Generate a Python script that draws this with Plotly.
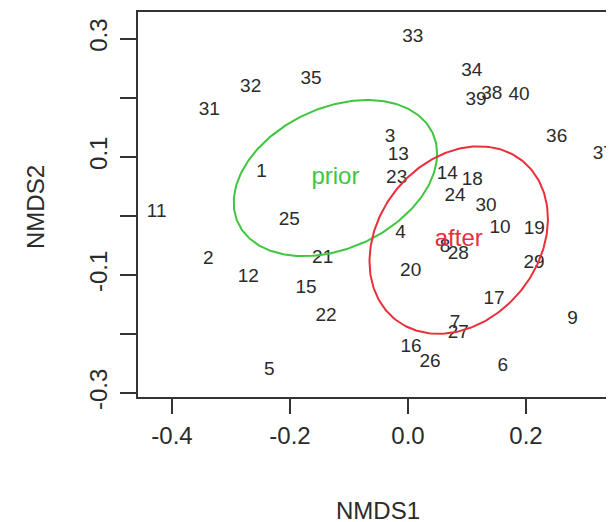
import numpy as np
import plotly.graph_objects as go

# ---- data ----
site_labels = [str(i) for i in range(1, 41)]
nmds1 = [-0.248, -0.3385, -0.0305, -0.0124, -0.235, 0.1605, 0.0797, 0.0627, 0.279, 0.156,
         -0.426, -0.2707, -0.0164, 0.0666, -0.1729, 0.0051, 0.1458, 0.109, 0.214, 0.0046,
         -0.1446, -0.139, -0.0192, 0.0797, -0.2012, 0.0373, 0.0853, 0.0853, 0.2136, 0.1322,
         -0.3368, -0.2666, 0.008, 0.108, -0.1644, 0.252, 0.331, 0.1419, 0.1153, 0.1881]
nmds2 = [0.0736, -0.0734, 0.134, -0.0298, -0.2615, -0.2547, -0.1824, -0.053, -0.1756, -0.0214,
         0.0058, -0.1034, 0.1029, 0.0707, -0.123, -0.222, -0.1417, 0.0605, -0.023, -0.0932,
         -0.0712, -0.1695, 0.0634, 0.0337, -0.0073, -0.2485, -0.1993, -0.0649, -0.0797, 0.0164,
         0.179, 0.2176, 0.3017, 0.2453, 0.2312, 0.1339, 0.104, 0.2058, 0.1961, 0.2046]

groups = ["prior", "after"]
group_colors = ["#3EC63E", "#E8303A"]
centre_x = [-0.123, 0.086]
centre_y = [0.064, -0.041]
# ellipse shape (covariance-like terms, NMDS units^2)
cov_xx = [0.02971, 0.02286]
cov_yy = [0.01748, 0.02522]
cov_xy = [0.00713, 0.00546]

x_ticks = [-0.4, -0.2, 0.0, 0.2]
x_ticktext = ["-0.4", "-0.2", "0.0", "0.2"]
y_ticks = [0.3, 0.2, 0.1, 0.0, -0.1, -0.2, -0.3]
y_ticktext = ["0.3", "", "0.1", "", "-0.1", "", "-0.3"]

FONT = "Liberation Sans, Arial, Helvetica, sans-serif"
INK = "#2b2b2b"

fig = go.Figure()

fig.add_trace(go.Scatter(
    x=nmds1, y=nmds2, text=site_labels, mode="text",
    textposition="middle center",
    textfont=dict(family=FONT, size=19, color=INK),
    hoverinfo="skip", showlegend=False, cliponaxis=False,
))

t = np.linspace(0, 2 * np.pi, 241)
for g, col, cx, cy, sxx, syy, sxy in zip(groups, group_colors, centre_x, centre_y,
                                         cov_xx, cov_yy, cov_xy):
    L = np.linalg.cholesky(np.array([[sxx, sxy], [sxy, syy]]))
    pts = L @ np.vstack([np.cos(t), np.sin(t)])
    fig.add_trace(go.Scatter(
        x=cx + pts[0], y=cy + pts[1], mode="lines",
        line=dict(color=col, width=2), hoverinfo="skip", showlegend=False,
    ))
    fig.add_trace(go.Scatter(
        x=[cx], y=[cy], text=[g], mode="text", textposition="middle center",
        textfont=dict(family=FONT, size=24, color=col),
        hoverinfo="skip", showlegend=False, cliponaxis=False,
    ))

axis_common = dict(
    showgrid=False, zeroline=False, showline=True, linecolor="#333333", linewidth=1.5,
    ticks="outside", tickcolor="#333333", tickwidth=1.5,
    tickfont=dict(family=FONT, size=24, color=INK),
)

# the page body adds an 8 px offset, so the figure is 8 px smaller each way
W, H = 606, 514
ML, MT, MB = 130, 4, 125
fig.update_layout(
    width=W, height=H,
    margin=dict(l=ML, r=0, t=MT, b=MB),
    paper_bgcolor="white", plot_bgcolor="white",
    xaxis=dict(range=[-0.4576, 0.3492], tickvals=x_ticks, ticktext=x_ticktext,
               ticklen=15, mirror=True, ticklabelstandoff=1, **axis_common),
    yaxis=dict(range=[-0.3068, 0.3453], tickvals=y_ticks, ticktext=y_ticktext,
               ticklen=16, tickangle=-90, mirror=False, ticklabelstandoff=4,
               **axis_common),
)

pw = W - ML
ph = H - MT - MB
fig.add_annotation(text="NMDS1", x=(370 - ML) / pw, y=-(502 - (H - MB)) / ph,
                   xref="paper", yref="paper", xanchor="center", yanchor="middle",
                   showarrow=False, font=dict(family=FONT, size=24, color=INK))
fig.add_annotation(text="NMDS2", x=-(ML - 27) / pw, y=((H - MB) - 199) / ph,
                   xref="paper", yref="paper", xanchor="center", yanchor="middle",
                   textangle=-90, showarrow=False,
                   font=dict(family=FONT, size=24, color=INK))

fig.write_html("out.html")
